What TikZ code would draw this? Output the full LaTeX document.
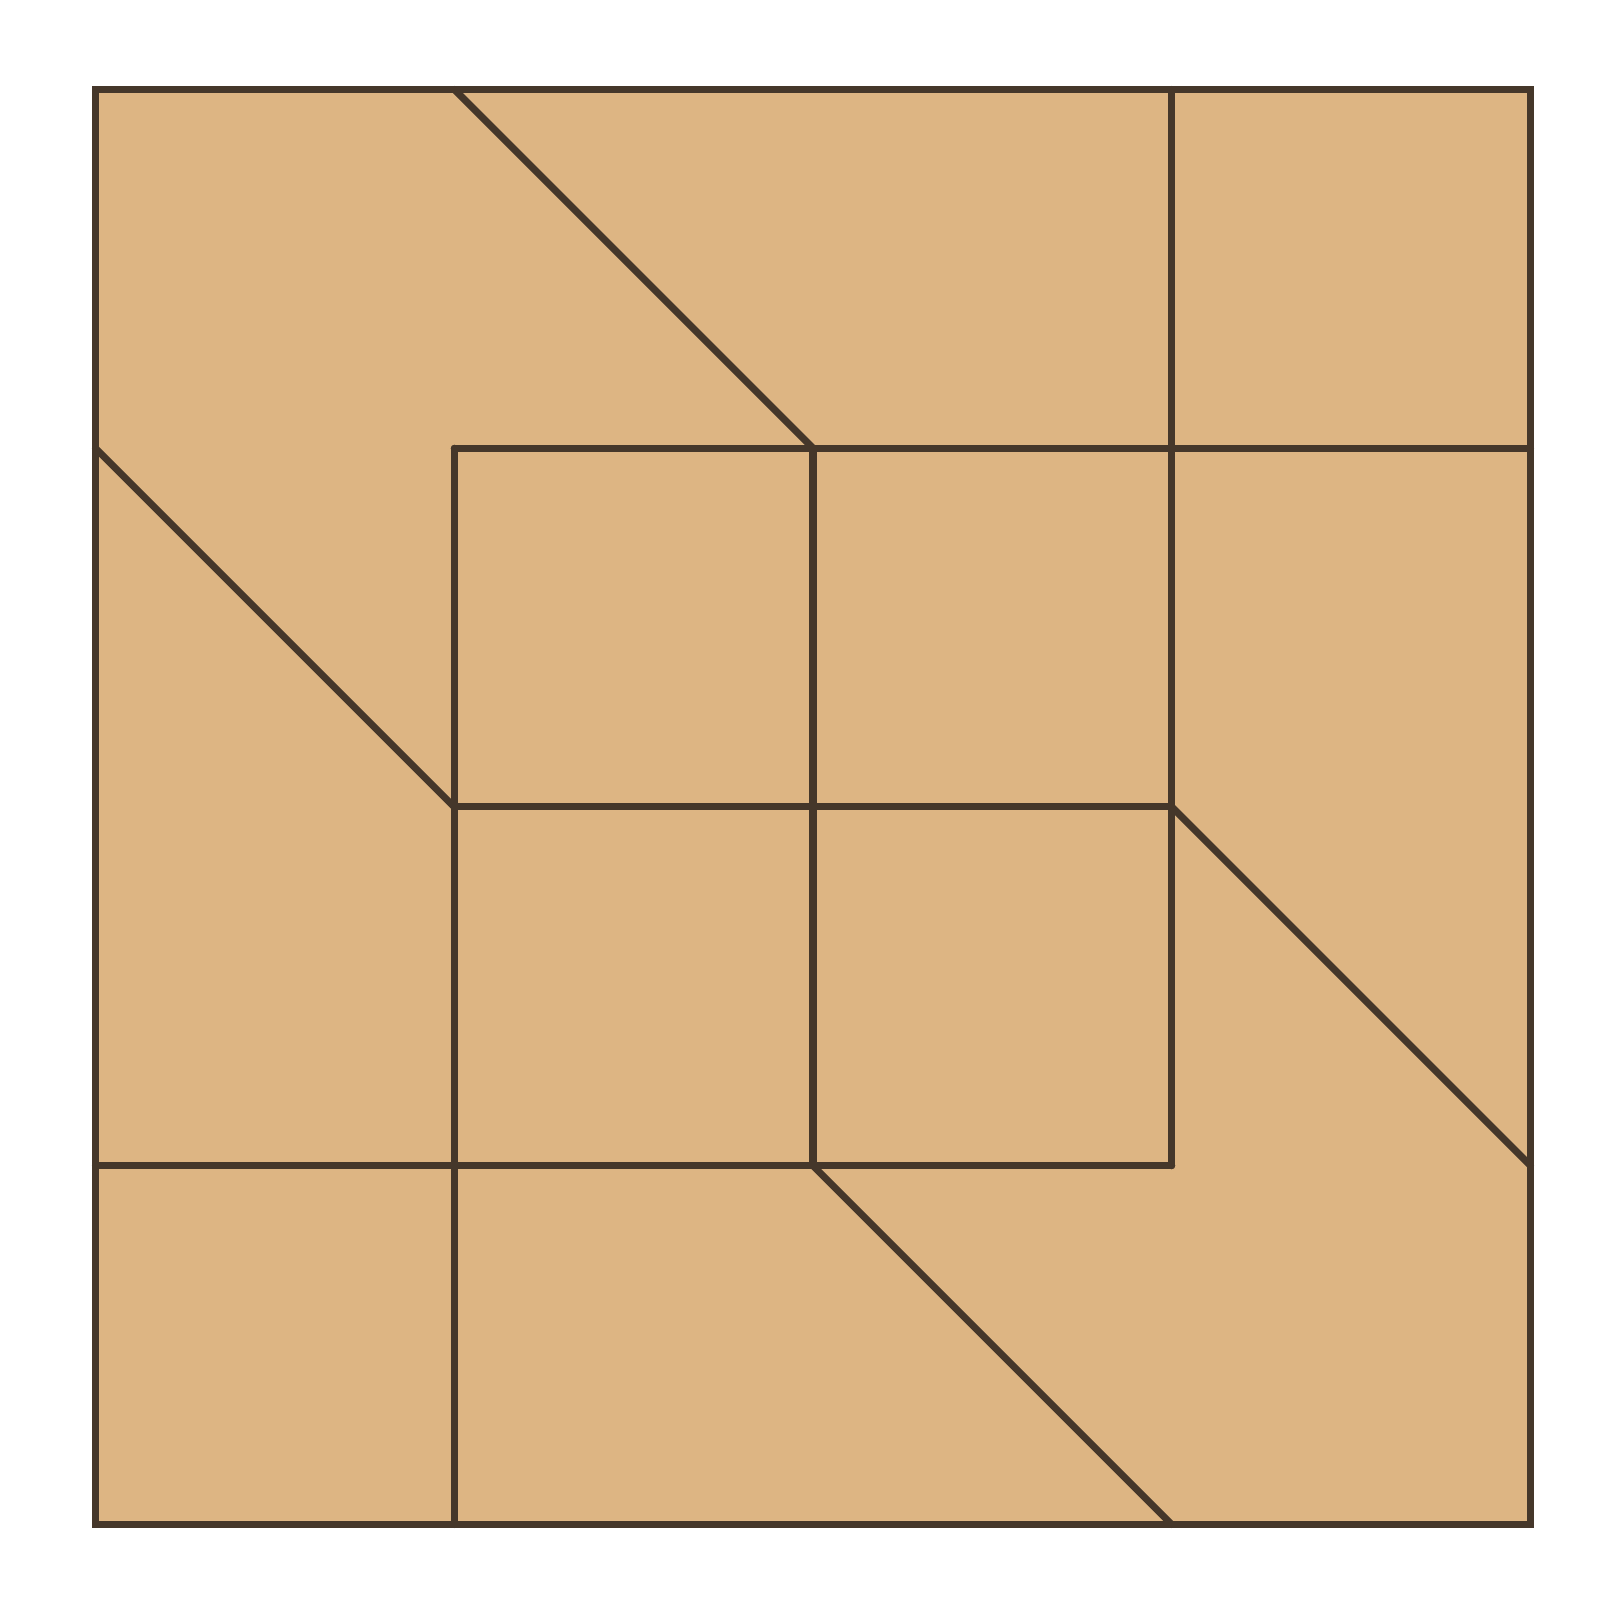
\documentclass[tikz,border=0pt]{standalone}
\definecolor{kraft}{HTML}{DDB583}
\definecolor{ink}{HTML}{45372A}
\begin{document}
\begin{tikzpicture}
\useasboundingbox (0,0) rectangle (16.2,16.2);
\fill[white] (0,0) rectangle (16.2,16.2);
\begin{scope}[shift={(0.955,15.305)}, x=3.5875cm, y=-3.5875cm,
  seam/.style={draw=ink, line width=2pt, line cap=round, line join=round}]
  % origin at top-left of the block, rows counted downwards
  \fill[kraft] (0,0) rectangle (4,4);
  \draw[seam, line cap=butt, line join=miter] (0,0) rectangle (4,4);
  \draw[seam] (1,0) -- (2,1);
  \draw[seam] (1,1) -- (4,1);
  \draw[seam] (3,0) -- (3,3);
  \draw[seam] (0,1) -- (1,2);
  \draw[seam] (1,1) -- (1,4);
  \draw[seam] (2,1) -- (2,3);
  \draw[seam] (1,2) -- (3,2);
  \draw[seam] (3,2) -- (4,3);
  \draw[seam] (0,3) -- (3,3);
  \draw[seam] (2,3) -- (3,4);
\end{scope}
\end{tikzpicture}
\end{document}
